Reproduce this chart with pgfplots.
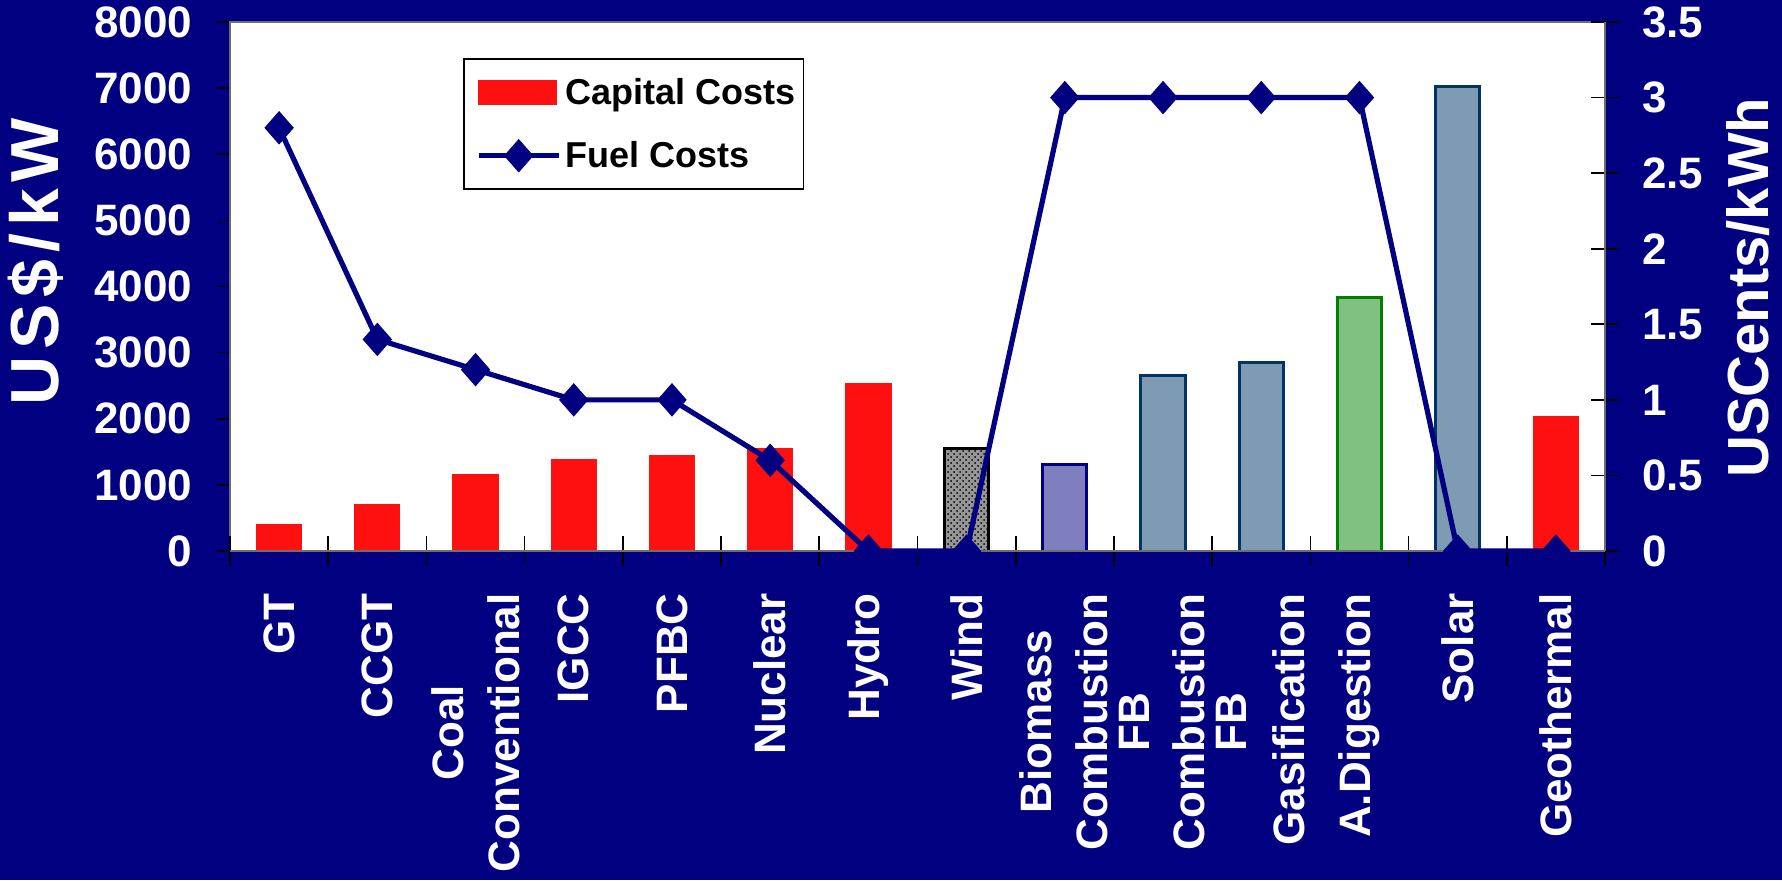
\documentclass[border=0pt]{standalone}
\usepackage{pgfplots}
\pgfplotsset{compat=1.18}
\usetikzlibrary{patterns}
\usepackage{fontspec}
\setmainfont{Liberation Sans}

\definecolor{navybg}{RGB}{0,0,128}
\definecolor{barred}{RGB}{255,16,16}
\definecolor{windfill}{RGB}{150,150,150}
\definecolor{biofill}{RGB}{127,127,192}
\definecolor{steelfill}{RGB}{127,154,179}
\definecolor{steeledge}{RGB}{0,51,102}
\definecolor{greenfill}{RGB}{128,192,128}
\definecolor{greenedge}{RGB}{0,128,0}
\definecolor{axgray}{RGB}{110,110,110}

\newcommand{\ticklabelfont}{\fontsize{22}{24}\selectfont\bfseries}
\newcommand{\catfont}{\fontsize{22}{21}\selectfont\bfseries}

\begin{document}
\begin{tikzpicture}
\fill[navybg] (0,0) rectangle (891pt,440pt);
\useasboundingbox (0,0) rectangle (891pt,440pt);

% capital costs: bars on the left axis
\begin{axis}[
  at={(115pt,164.5pt)}, anchor=south west, scale only axis,
  width=687.5pt, height=264.5pt,
  xmin=-0.5, xmax=13.5, ymin=0, ymax=8000,
  axis background/.style={fill=white},
  axis line style={axgray, line width=1pt},
  xtick=\empty,
  ytick={0,1000,...,8000}, ytick pos=left,
  tick align=outside, major tick length=6.5pt,
  ytick style={black, line width=0.8pt},
  scaled y ticks=false,
  /pgf/number format/1000 sep={},
  /pgf/number format/assume math mode=true,
  yticklabel style={font=\ticklabelfont, text=white, inner sep=0pt, anchor=east, xshift=-12.15pt},
  ylabel={\addfontfeature{LetterSpace=10}US\$/kW},
  ylabel style={font=\fontsize{34}{36}\selectfont\bfseries, text=white,
    at={(rel axis cs:-0.1415,0.547)}, anchor=center},
]
\addplot[ybar, bar width=0.45, bar shift=0pt, fill=barred, draw=barred, line width=1pt]
  coordinates {(0,400) (1,700) (2,1150) (3,1380) (4,1430) (5,1550) (6,2530) (13,2020)};
\addplot[ybar, bar width=0.45, bar shift=0pt, fill=windfill, draw=black, line width=1.5pt,
  postaction={pattern=crosshatch dots, pattern color=black}]
  coordinates {(7,1550)};
\addplot[ybar, bar width=0.45, bar shift=0pt, fill=biofill, draw=navybg, line width=1.5pt]
  coordinates {(8,1310)};
\addplot[ybar, bar width=0.45, bar shift=0pt, fill=steelfill, draw=steeledge, line width=1.5pt]
  coordinates {(9,2650) (10,2850) (12,7020)};
\addplot[ybar, bar width=0.45, bar shift=0pt, fill=greenfill, draw=greenedge, line width=1.5pt]
  coordinates {(11,3840)};
\end{axis}

% fuel costs: line on the right axis
\begin{axis}[
  at={(115pt,164.5pt)}, anchor=south west, scale only axis,
  width=687.5pt, height=264.5pt,
  xmin=-0.5, xmax=13.5, ymin=0, ymax=3.5,
  clip=false,
  axis x line*=bottom, axis y line*=right,
  axis line style={axgray, line width=1.2pt},
  xtick={0,...,13},
  minor xtick={-0.5,0.5,...,13.5},
  xticklabels={GT, CCGT, {Coal\\[7pt]Conventional}, IGCC, PFBC, Nuclear, Hydro, Wind,
    {\vphantom{Bg}\\Biomass\\[7pt]Combustion\\FB},
    {\vphantom{Bg}\\[26pt]Combustion\\FB},
    {\vphantom{Bg}\\[7pt]Gasification}, A.Digestion, Solar, Geothermal},
  major x tick style={draw=none},
  minor x tick style={black, line width=0.8pt},
  minor tick length=15pt,
  ytick={0,0.5,...,3.5},
  major tick length=14pt,
  ytick style={black, line width=0.8pt},
  tick align=center,
  /pgf/number format/assume math mode=true,
  xticklabel style={font=\catfont, text=white, rotate=90, anchor=east, align=center, inner sep=0pt, xshift=-14pt},
  yticklabel style={font=\ticklabelfont, text=white, inner sep=0pt, anchor=west, xshift=11.35pt},
  ylabel={USCents/kWh},
  ylabel style={font=\fontsize{29}{32}\selectfont\bfseries, text=white, inner sep=0pt,
    at={(rel axis cs:1.104,0.4977)}, anchor=center},
  legend style={at={(rel axis cs:0.1697,0.9314)}, anchor=north west,
    draw=black, line width=0.8pt, fill=white,
    font=\fontsize{18}{20}\selectfont\bfseries, text=black,
    inner xsep=2pt, inner ysep=7.5pt, row sep=13pt},
  legend cell align=left,
]
\addlegendimage{legend image code/.code={\path (0pt,0pt); \fill[barred] (4pt,-6pt) rectangle (42.5pt,6pt);}}
\addlegendentry{Capital Costs}
\addplot[navybg, line width=2.6pt, mark=diamond*, mark size=8pt,
  mark options={xscale=1.17, line width=0.5pt},
  legend image code/.code={\path (0pt,0pt);
    \draw[navybg, line width=2.6pt, mark=diamond*, mark size=8pt,
    mark options={xscale=1.17, line width=0.5pt}, mark repeat=2, mark phase=2]
    plot coordinates {(4pt,0pt) (24pt,0pt) (44pt,0pt)};}]
  coordinates {(0,2.8) (1,1.4) (2,1.2) (3,1.0) (4,1.0) (5,0.6) (6,0) (7,0)
    (8,3) (9,3) (10,3) (11,3) (12,0) (13,0)};
\addlegendentry{Fuel Costs}
\end{axis}
\end{tikzpicture}
\end{document}
